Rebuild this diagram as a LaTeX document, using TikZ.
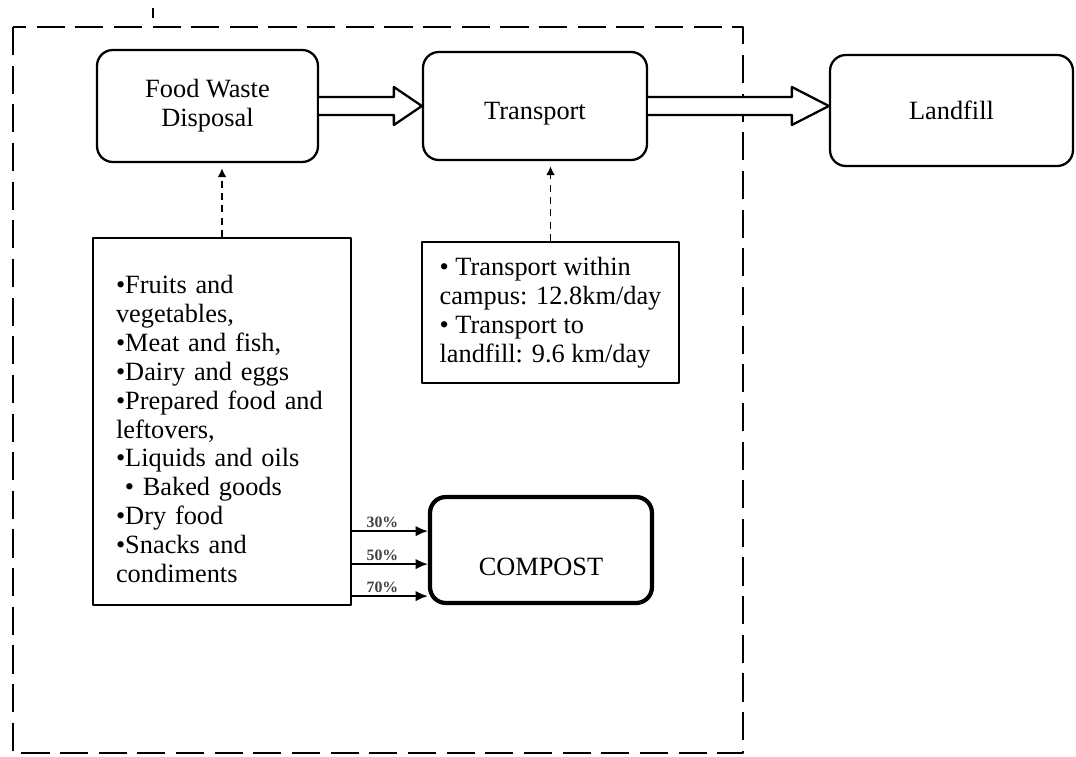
\documentclass[tikz,border=0pt]{standalone}
\usepackage{fontspec}
\setmainfont{Liberation Serif}
\usepackage{tikz}
\usetikzlibrary{arrows.meta,calc,positioning}

\begin{document}
\begin{tikzpicture}[
    >=Latex,
    x=0.02cm,
    y=-0.02cm,
    line join=round,
    font=\fontsize{15}{16.4}\selectfont,
    stagebox/.style={
        draw,
        line width=1.3pt,
        rounded corners=9pt,
        align=center,
        inner sep=0pt
    },
    listbox/.style={
        draw,
        line width=1.3pt,
        inner sep=0pt
    },
    hollowarrow/.style={
        draw,
        line width=1.3pt,
        fill=white
    },
    inflow/.style={
        -{Latex[length=5pt,width=5pt]},
        dash pattern=on 4pt off 3pt,
        line width=0.7pt,
        shorten >=3pt
    },
    share/.style={
        -{Latex[length=7pt,width=6pt]},
        line width=1.1pt
    },
    pct/.style={
        font=\fontsize{9}{10}\selectfont\bfseries,
        text=black!75,
        inner sep=1.5pt
    }
]

\useasboundingbox (0,0) rectangle (1076,757);

% system boundary
\draw[
    line width=1.6pt,
    dash pattern=on 16pt off 6pt
]
    (13,27) rectangle (743,753);

\draw[line width=0.8pt] (153,8) -- (153,18);

% Food Waste Disposal
\node[stagebox, minimum width=4.42cm, minimum height=2.24cm]
    (fwd) at (207.5,106)
    {Food Waste\\Disposal};

% Transport
\node[
    stagebox,
    minimum width=4.48cm,
    minimum height=2.16cm,
    text height=18pt,
    text depth=3pt
]
    (transport) at (535,106)
    {Transport};

% Landfill
\node[stagebox, minimum width=4.86cm, minimum height=2.22cm]
    (landfill) at (951.5,110.5)
    {Landfill};

% food categories
\node[
    listbox,
    minimum width=5.16cm,
    minimum height=7.34cm,
    text width=4.24cm,
    inner xsep=0.46cm,
    text height=19pt,
    align=left
]
    (foodlist) at (222,421.5)
    {•Fruits and\\
     vegetables,\\
     •Meat and fish,\\
     •Dairy and eggs\\
     •Prepared food and\\
     leftovers,\\
     •Liquids and oils\\
     \ • Baked goods\\
     •Dry food\\
     •Snacks and\\
     condiments};

% transport distances
\node[
    listbox,
    minimum width=5.14cm,
    minimum height=2.82cm,
    align=left
]
    (tinfo) at (550.5,312.5)
    {• Transport within\\
     campus: 12.8km/day\\
     • Transport to\\
     landfill: 9.6 km/day};

% COMPOST
\node[
    stagebox,
    line width=2.4pt,
    minimum width=4.44cm,
    minimum height=2.12cm
]
    (compost) at (541,550)
    {};

\node (compostlbl) at ($(compost.center)+(0,17)$)
    {COMPOST};

% hollow arrows
\draw[hollowarrow]
    ($(fwd.east)+(0,-9)$)
    -- ($(transport.west)+(-28,-9)$)
    -- ($(transport.west)+(-28,-19)$)
    -- (transport.west)
    -- ($(transport.west)+(-28,19)$)
    -- ($(transport.west)+(-28,9)$)
    -- ($(fwd.east)+(0,9)$);

\coordinate (tip) at (transport.east -| landfill.west);

\draw[hollowarrow]
    ($(transport.east)+(0,-9)$)
    -- ($(tip)+(-37,-9)$)
    -- ($(tip)+(-37,-19)$)
    -- (tip)
    -- ($(tip)+(-37,19)$)
    -- ($(tip)+(-37,9)$)
    -- ($(transport.east)+(0,9)$);

% dashed inputs
\draw[inflow] (foodlist.north) -- (foodlist.north |- fwd.south);
\draw[inflow] (tinfo.north) -- (tinfo.north |- transport.south);

% shares to compost
\coordinate (s30) at ($(foodlist.south east)+(0,-75)$);
\coordinate (s50) at ($(foodlist.south east)+(0,-42)$);
\coordinate (s70) at ($(foodlist.south east)+(0,-10)$);

\draw[share] (s30) -- node[pct, above, pos=0.4] {30\%} (s30 -| compost.west);
\draw[share] (s50) -- node[pct, above, pos=0.4] {50\%} (s50 -| compost.west);
\draw[share] (s70) -- node[pct, above, pos=0.4] {70\%} (s70 -| compost.west);

\end{tikzpicture}
\end{document}
